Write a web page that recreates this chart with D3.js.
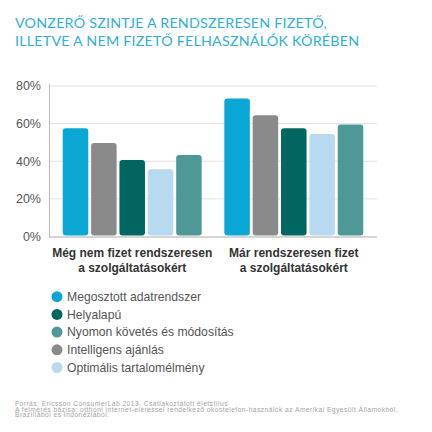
<!DOCTYPE html>
<html>
<head>
<meta charset="utf-8">
<script src="https://cdn.jsdelivr.net/npm/d3@7"></script>
<style>
  body { margin: 0; background: #fff; }
  text { font-family: "Liberation Sans", Arial, sans-serif; }
</style>
</head>
<body>
<div id="chart"></div>
<script>
// chart values
var groups = ["Még nem fizet rendszeresen|a szolgáltatásokért", "Már rendszeresen fizet|a szolgáltatásokért"];
var barOrder = ["Megosztott adatrendszer", "Intelligens ajánlás", "Helyalapú", "Optimális tartalomélmény", "Nyomon követés és módosítás"];
var legendOrder = ["Megosztott adatrendszer", "Helyalapú", "Nyomon követés és módosítás", "Intelligens ajánlás", "Optimális tartalomélmény"];
var colors = ["#0aa7d5", "#8b8a8b", "#00665f", "#b8daf0", "#4f9897"];
var notPaying = [57.5, 49.7, 40.7, 35.7, 43.3];
var paying = [73.3, 64.4, 57.5, 54.5, 59.6];
var yTicks = [0, 20, 40, 60, 80];
var titleLines = ["VONZERŐ SZINTJE A RENDSZERESEN FIZETŐ,", "ILLETVE A NEM FIZETŐ FELHASZNÁLÓK KÖRÉBEN"];
var footLines = [
  "Forrás: Ericsson ConsumerLab 2013, Csatlakoztatott életstílus",
  "A felmérés bázisa: otthoni internet-eléréssel rendelkező okostelefon-használók az Amerikai Egyesült Államokból,",
  "Brazíliából és Indonéziából."
];

var W = 432, H = 432;
var svg = d3.select("#chart").append("svg")
  .attr("width", W).attr("height", H);

var series = [notPaying, paying];

var x0 = d3.scaleBand().domain(d3.range(groups.length))
  .range([49, 377]).paddingInner(0.14).paddingOuter(0.085);
var x1 = d3.scaleBand().domain(barOrder)
  .range([0, x0.bandwidth()]).paddingInner(0.1);
var y = d3.scaleLinear().domain([0, 80]).range([236.5, 86]);
var color = d3.scaleOrdinal().domain(barOrder).range(colors);

// title
svg.append("g").selectAll("text").data(titleLines).enter().append("text")
  .attr("x", 15).attr("y", function(d, i) { return 28 + i * 18; })
  .style("font-family", "Lato, sans-serif").style("font-weight", 400)
  .style("font-size", "14.3px").style("fill", "#2fb0da")
  .style("letter-spacing", "0.2px")
  .text(function(d) { return d; });

// gridlines
svg.append("g").selectAll("line").data(yTicks.slice(1)).enter().append("line")
  .attr("x1", 49).attr("x2", 377)
  .attr("y1", function(d) { return y(d); }).attr("y2", function(d) { return y(d); })
  .style("stroke", "#e2e2e2").style("stroke-width", 1);

// y labels
svg.append("g").selectAll("text").data(yTicks).enter().append("text")
  .attr("x", 41).attr("y", function(d) { return y(d); })
  .attr("dy", "0.35em").attr("text-anchor", "end")
  .style("font-size", "12.5px").style("fill", "#555")
  .text(function(d) { return d + "%"; });

// bars
var g = svg.append("g").selectAll("g").data(series).enter().append("g")
  .attr("transform", function(d, i) { return "translate(" + x0(i) + ",0)"; });
g.selectAll("rect").data(function(d) { return d; }).enter().append("rect")
  .attr("x", function(d, i) { return x1(barOrder[i]); })
  .attr("width", x1.bandwidth())
  .attr("y", function(d) { return y(d); })
  .attr("height", function(d) { return y(0) - y(d) - 1; })
  .attr("rx", 3)
  .style("fill", function(d, i) { return colors[i]; });

// axes lines
svg.append("line").attr("x1", 49).attr("x2", 377).attr("y1", y(0) + 0.5).attr("y2", y(0) + 0.5)
  .style("stroke", "#aaa").style("stroke-width", 1);
svg.append("line").attr("x1", 49.5).attr("x2", 49.5).attr("y1", 84).attr("y2", y(0) + 1)
  .style("stroke", "#bbb").style("stroke-width", 1);

// category labels
var cat = svg.append("g").selectAll("text").data(groups).enter().append("text")
  .attr("x", function(d, i) { return x0(i) + x0.bandwidth() / 2; })
  .attr("y", 257).attr("text-anchor", "middle")
  .style("font-size", "12px").style("font-weight", "bold").style("fill", "#333");
cat.selectAll("tspan").data(function(d) { return d.split("|"); }).enter().append("tspan")
  .attr("x", function() { return d3.select(this.parentNode).attr("x"); })
  .attr("dy", function(d, i) { return i ? 15 : 0; })
  .text(function(d) { return d; });

// legend
var leg = svg.append("g").selectAll("g").data(legendOrder).enter().append("g")
  .attr("transform", function(d, i) { return "translate(57," + (296.7 + i * 17.7) + ")"; });
leg.append("circle").attr("r", 5.5).style("fill", function(d) { return color(d); });
leg.append("text").attr("x", 10).attr("dy", "0.35em")
  .style("font-size", "12.2px").style("fill", "#555")
  .text(function(d) { return d; });

// footnote
svg.append("g").selectAll("text").data(footLines).enter().append("text")
  .attr("x", 15).attr("y", function(d, i) { return 406 + i * 5.6; })
  .style("font-size", "6.7px").style("fill", "#a3a3a3")
  .style("letter-spacing", "0.45px")
  .text(function(d) { return d; });
</script>
</body>
</html>
